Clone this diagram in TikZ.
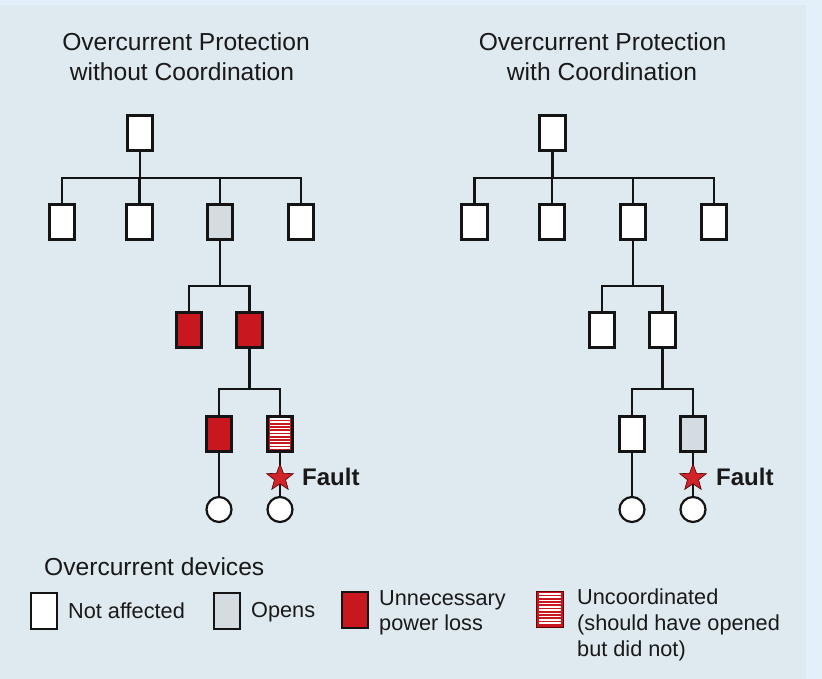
\documentclass[tikz,border=0pt]{standalone}
\usepackage{fontspec}
\setmainfont{Liberation Sans}
\usetikzlibrary{shapes.geometric}
\definecolor{outerbg}{HTML}{E4F0F9}
\definecolor{panelbg}{HTML}{DFE9F0}
\definecolor{devred}{HTML}{C8171E}
\definecolor{devgray}{HTML}{D4DBE1}
\definecolor{starred}{HTML}{D2232B}
\definecolor{inkline}{HTML}{141414}
\tikzset{
  dev/.style={draw=inkline, line width=2.6pt, minimum width=25.5pt, minimum height=35.5pt, inner sep=0pt, fill=white},
  devopen/.style={dev, fill=devgray},
  devloss/.style={dev, fill=devred},
  devstripe/.style={dev, fill=devred,
    path picture={\foreach \k in {1,...,10}{
      \draw[white, line width=1.35pt] ([xshift=2.4pt,yshift=-\k*3.25pt+0.6pt]path picture bounding box.north west) -- ([xshift=-2.4pt,yshift=-\k*3.25pt+0.6pt]path picture bounding box.north east);}}},
  lgdev/.style={dev, line width=2pt, minimum width=26pt, minimum height=36pt},
  load/.style={circle, draw=inkline, line width=2.2pt, fill=white, minimum size=25pt, inner sep=0pt},
  fault/.style={star, star points=5, star point ratio=2.4, minimum size=28pt, inner sep=0pt, fill=starred, draw=black!70!red, line width=0.6pt},
  wire/.style={draw=inkline, line width=2.5pt, line join=miter},
  titletext/.style={font=\fontsize{24.6}{30}\selectfont, anchor=base, inner sep=0pt, text=black!90},
  lgtext/.style={font=\fontsize{21.7}{26}\selectfont, anchor=base west, inner sep=0pt, text=black!90},
  faulttext/.style={font=\fontsize{24}{28}\selectfont\bfseries, anchor=base west, inner sep=0pt, text=black!90}
}
\begin{document}
\begin{tikzpicture}[x=1pt, y=-1pt]
\useasboundingbox (0,0) rectangle (822,679);
\fill[outerbg] (0,0) rectangle (822,679);
\fill[panelbg] (0,5) rectangle (806,679);

% titles
\node[titletext] (tl1) at (186,51) {Overcurrent Protection};
\node[titletext] (tl2) at (182,81) {without Coordination};
\node[titletext] (tr1) at (602.5,51) {Overcurrent Protection};
\node[titletext] (tr2) at (602,81) {with Coordination};

% ---------- left tree ----------
\coordinate (lb1) at (140,178);
\coordinate (lb2) at (220,286);
\coordinate (lb3) at (249.5,389);
\node[dev] (L0) at (140,133) {};
\node[dev] (L1) at (62,222) {};
\node[dev] (L2) at (139.5,222) {};
\node[devopen] (L3) at (220,222) {};
\node[dev] (L4) at (301,222) {};
\node[devloss] (L5) at (189,330) {};
\node[devloss] (L6) at (249.5,330) {};
\node[devloss] (L7) at (219,434) {};
\node[devstripe] (L8) at (280,434) {};
\node[load] (LC1) at (219,509.5) {};
\node[load] (LC2) at (280,509.5) {};

\draw[wire] (L0.south) -- (L0.south |- lb1);
\draw[wire] (L1.north) -- (L1.north |- lb1) -- (L4.north |- lb1) -- (L4.north);
\draw[wire] (L2.north) -- (L2.north |- lb1);
\draw[wire] (L3.north) -- (L3.north |- lb1);
\draw[wire] (L3.south) -- (L3.south |- lb2);
\draw[wire] (L5.north) -- (L5.north |- lb2) -- (L6.north |- lb2) -- (L6.north);
\draw[wire] (L6.south) -- (L6.south |- lb3);
\draw[wire] (L7.north) -- (L7.north |- lb3) -- (L8.north |- lb3) -- (L8.north);
\draw[wire] (L7.south) -- (LC1.north);
\draw[wire] (L8.south) -- (LC2.north);
\node[fault] (LF) at (280,478) {};
\node[faulttext] (LFt) at (302,485) {Fault};

% ---------- right tree ----------
\coordinate (rb1) at (553,178);
\coordinate (rb2) at (633,286);
\coordinate (rb3) at (662.5,389);
\node[dev] (R0) at (552.5,133) {};
\node[dev] (R1) at (474.5,222) {};
\node[dev] (R2) at (552,222) {};
\node[dev] (R3) at (633,222) {};
\node[dev] (R4) at (714,222) {};
\node[dev] (R5) at (602,330) {};
\node[dev] (R6) at (662.5,330) {};
\node[dev] (R7) at (632,434) {};
\node[devopen] (R8) at (693,434) {};
\node[load] (RC1) at (632,509.5) {};
\node[load] (RC2) at (693,509.5) {};

\draw[wire] (R0.south) -- (R0.south |- rb1);
\draw[wire] (R1.north) -- (R1.north |- rb1) -- (R4.north |- rb1) -- (R4.north);
\draw[wire] (R2.north) -- (R2.north |- rb1);
\draw[wire] (R3.north) -- (R3.north |- rb1);
\draw[wire] (R3.south) -- (R3.south |- rb2);
\draw[wire] (R5.north) -- (R5.north |- rb2) -- (R6.north |- rb2) -- (R6.north);
\draw[wire] (R6.south) -- (R6.south |- rb3);
\draw[wire] (R7.north) -- (R7.north |- rb3) -- (R8.north |- rb3) -- (R8.north);
\draw[wire] (R7.south) -- (RC1.north);
\draw[wire] (R8.south) -- (RC2.north);
\node[fault] (RF) at (693,478) {};
\node[faulttext] (RFt) at (716,485) {Fault};

% ---------- legend ----------
\node[titletext, anchor=base west] (lgt) at (44,575) {Overcurrent devices};
\node[lgdev] (G1) at (43.5,611) {};
\node[lgtext] (G1t) at (68,618) {Not affected};
\node[lgdev, fill=devgray] (G2) at (226.5,610.5) {};
\node[lgtext] (G2t) at (251,617) {Opens};
\node[lgdev, fill=devred] (G3) at (355,610) {};
\node[lgtext] (G3t) at (379,605) {Unnecessary};
\node[lgtext] (G3u) at (379,630) {power loss};
\node[devstripe, draw=black!60!red, line width=1.4pt, minimum width=26.5pt, minimum height=36.5pt] (G4) at (550,609.5) {};
\node[lgtext] (G4t) at (577,604) {Uncoordinated};
\node[lgtext] (G4u) at (577,630) {(should have opened};
\node[lgtext] (G4v) at (577,656) {but did not)};
\end{tikzpicture}
\end{document}
